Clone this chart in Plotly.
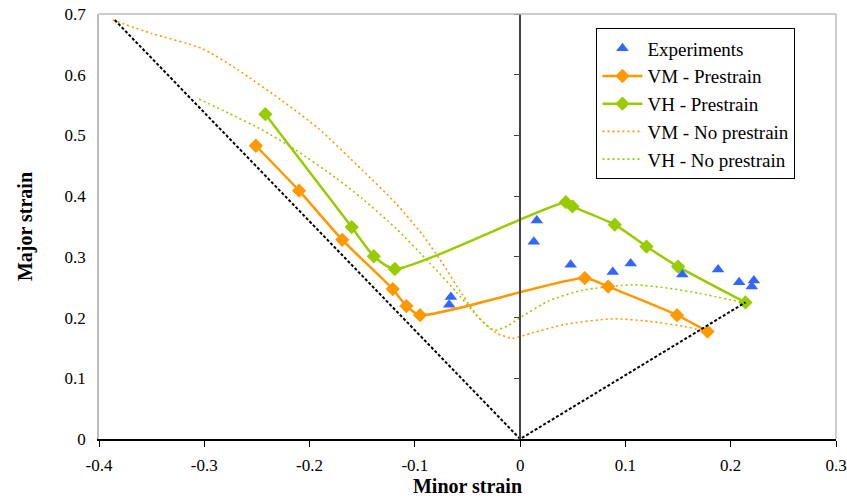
import plotly.graph_objects as go

# ---- data ----
exp_x = [-0.0658, -0.0674, 0.0158, 0.013, 0.048, 0.088, 0.105, 0.154, 0.188, 0.208, 0.220, 0.222]
exp_y = [0.234, 0.221, 0.360, 0.325, 0.287, 0.275, 0.289, 0.271, 0.279, 0.258, 0.251, 0.261]

vm_pre_x = [-0.251, -0.210, -0.169, -0.121, -0.108, -0.095, 0.0614, 0.0836, 0.149, 0.178]
vm_pre_y = [0.483, 0.409, 0.328, 0.247, 0.219, 0.204, 0.265, 0.251, 0.204, 0.177]

vh_pre_x = [-0.242, -0.160, -0.139, -0.119, 0.0434, 0.0497, 0.0899, 0.120, 0.150, 0.214]
vh_pre_y = [0.535, 0.349, 0.301, 0.280, 0.390, 0.383, 0.353, 0.317, 0.284, 0.225]

vm_nopre_x = [-0.387, -0.350, -0.302, -0.268, -0.226, -0.192, -0.150, -0.118, -0.093, -0.074,
              -0.055, -0.039, -0.023, -0.008, 0.012, 0.043, 0.088, 0.122, 0.157, 0.178]
vm_nopre_y = [0.690, 0.668, 0.643, 0.608, 0.557, 0.512, 0.443, 0.388, 0.337, 0.290,
              0.238, 0.199, 0.175, 0.166, 0.175, 0.189, 0.198, 0.194, 0.185, 0.177]

vh_nopre_x = [-0.305, -0.276, -0.245, -0.213, -0.175, -0.150, -0.118, -0.086, -0.061, -0.042,
              -0.025, -0.012, 0.000, 0.028, 0.059, 0.107, 0.138, 0.170, 0.211]
vh_nopre_y = [0.560, 0.536, 0.509, 0.476, 0.430, 0.396, 0.347, 0.290, 0.243, 0.205,
              0.179, 0.186, 0.200, 0.228, 0.245, 0.254, 0.249, 0.240, 0.225]

limit_x = [-0.385, 0.0, 0.214]
limit_y = [0.690, 0.0, 0.225]

x_ticks = [-0.4, -0.3, -0.2, -0.1, 0, 0.1, 0.2, 0.3]
x_ticklabels = ["-0.4", "-0.3", "-0.2", "-0.1", "0", "0.1", "0.2", "0.3"]
y_ticks = [0, 0.1, 0.2, 0.3, 0.4, 0.5, 0.6, 0.7]
y_ticklabels = ["0", "0.1", "0.2", "0.3", "0.4", "0.5", "0.6", "0.7"]

ORANGE = "#FF9900"
GREEN = "#99CC00"
BLUE = "#3366FF"
FONT = "Liberation Serif, DejaVu Serif, serif"

fig = go.Figure()

fig.add_trace(go.Scatter(x=limit_x, y=limit_y, mode="lines", showlegend=False,
                         line=dict(color="black", width=2, dash="3px,2px"), yaxis="y2",
                         hoverinfo="skip"))
fig.add_trace(go.Scatter(x=vm_nopre_x, y=vm_nopre_y, mode="lines", name="VM - No prestrain",
                         legendgroup="d", legendrank=4,
                         line=dict(color=ORANGE, width=1.6, dash="2px,3px", shape="spline", smoothing=0.6)))
fig.add_trace(go.Scatter(x=vh_nopre_x, y=vh_nopre_y, mode="lines", name="VH - No prestrain",
                         legendgroup="e", legendrank=5,
                         line=dict(color=GREEN, width=1.6, dash="2px,3px", shape="spline", smoothing=0.6)))
fig.add_trace(go.Scatter(x=vm_pre_x, y=vm_pre_y, mode="lines+markers", name="VM - Prestrain",
                         legendgroup="b", legendrank=2,
                         line=dict(color=ORANGE, width=2.5, shape="spline", smoothing=0.6),
                         marker=dict(symbol="diamond", size=11, color=ORANGE)))
fig.add_trace(go.Scatter(x=vh_pre_x, y=vh_pre_y, mode="lines+markers", name="VH - Prestrain",
                         legendgroup="c", legendrank=3,
                         line=dict(color=GREEN, width=2.5, shape="spline", smoothing=0.6),
                         marker=dict(symbol="diamond", size=11, color=GREEN)))
fig.add_trace(go.Scatter(x=exp_x, y=exp_y, mode="markers", name="Experiments",
                         legendgroup="a", legendrank=1,
                         marker=dict(symbol="triangle-up", size=11, color=BLUE)))

fig.update_layout(
    width=847, height=499,
    margin=dict(l=99, r=11, t=14, b=60),
    paper_bgcolor="white", plot_bgcolor="white",
    font=dict(family=FONT, size=17, color="black"),
    xaxis=dict(range=[-0.4, 0.3], tickvals=x_ticks, ticktext=x_ticklabels, automargin=False,
               showgrid=False, zeroline=False, showline=True, linecolor="black", linewidth=1.5,
               ticks="outside", ticklen=6, tickcolor="black", tickwidth=1,
               tickfont=dict(size=17), ticklabelstandoff=4,
               title=dict(text="<b>Minor strain</b>", font=dict(size=20), standoff=0)),
    yaxis=dict(range=[0, 0.7], tickvals=y_ticks, ticktext=y_ticklabels, automargin=False,
               showgrid=False, zeroline=False, showline=True, linecolor="#BBBBBB", linewidth=1.5,
               ticks="", tickfont=dict(size=17), ticklabelstandoff=8,
               title=dict(text="<b>Major strain</b>", font=dict(size=20), standoff=27)),
    yaxis2=dict(range=[0, 0.7], overlaying="y", anchor="free", position=0.4 / 0.7,
                tickvals=y_ticks, showticklabels=False, showgrid=False, zeroline=False,
                showline=True, linecolor="#444444", linewidth=1.5, automargin=False,
                ticks="outside", ticklen=5, tickcolor="#444444"),
    legend=dict(x=0.675, y=0.966, xanchor="left", yanchor="top",
                bordercolor="black", borderwidth=1, bgcolor="white",
                font=dict(size=19), tracegroupgap=0, traceorder="grouped", itemwidth=40),
    shapes=[
        dict(type="line", xref="paper", yref="paper", x0=0, x1=1, y0=1, y1=1,
             line=dict(color="#BBBBBB", width=1.5)),
        dict(type="line", xref="paper", yref="paper", x0=1, x1=1, y0=0, y1=1,
             line=dict(color="#BBBBBB", width=1.5)),
    ],
)

fig.write_html("out.html", config={"displayModeBar": False},
               post_script="document.body.style.margin='0';")
